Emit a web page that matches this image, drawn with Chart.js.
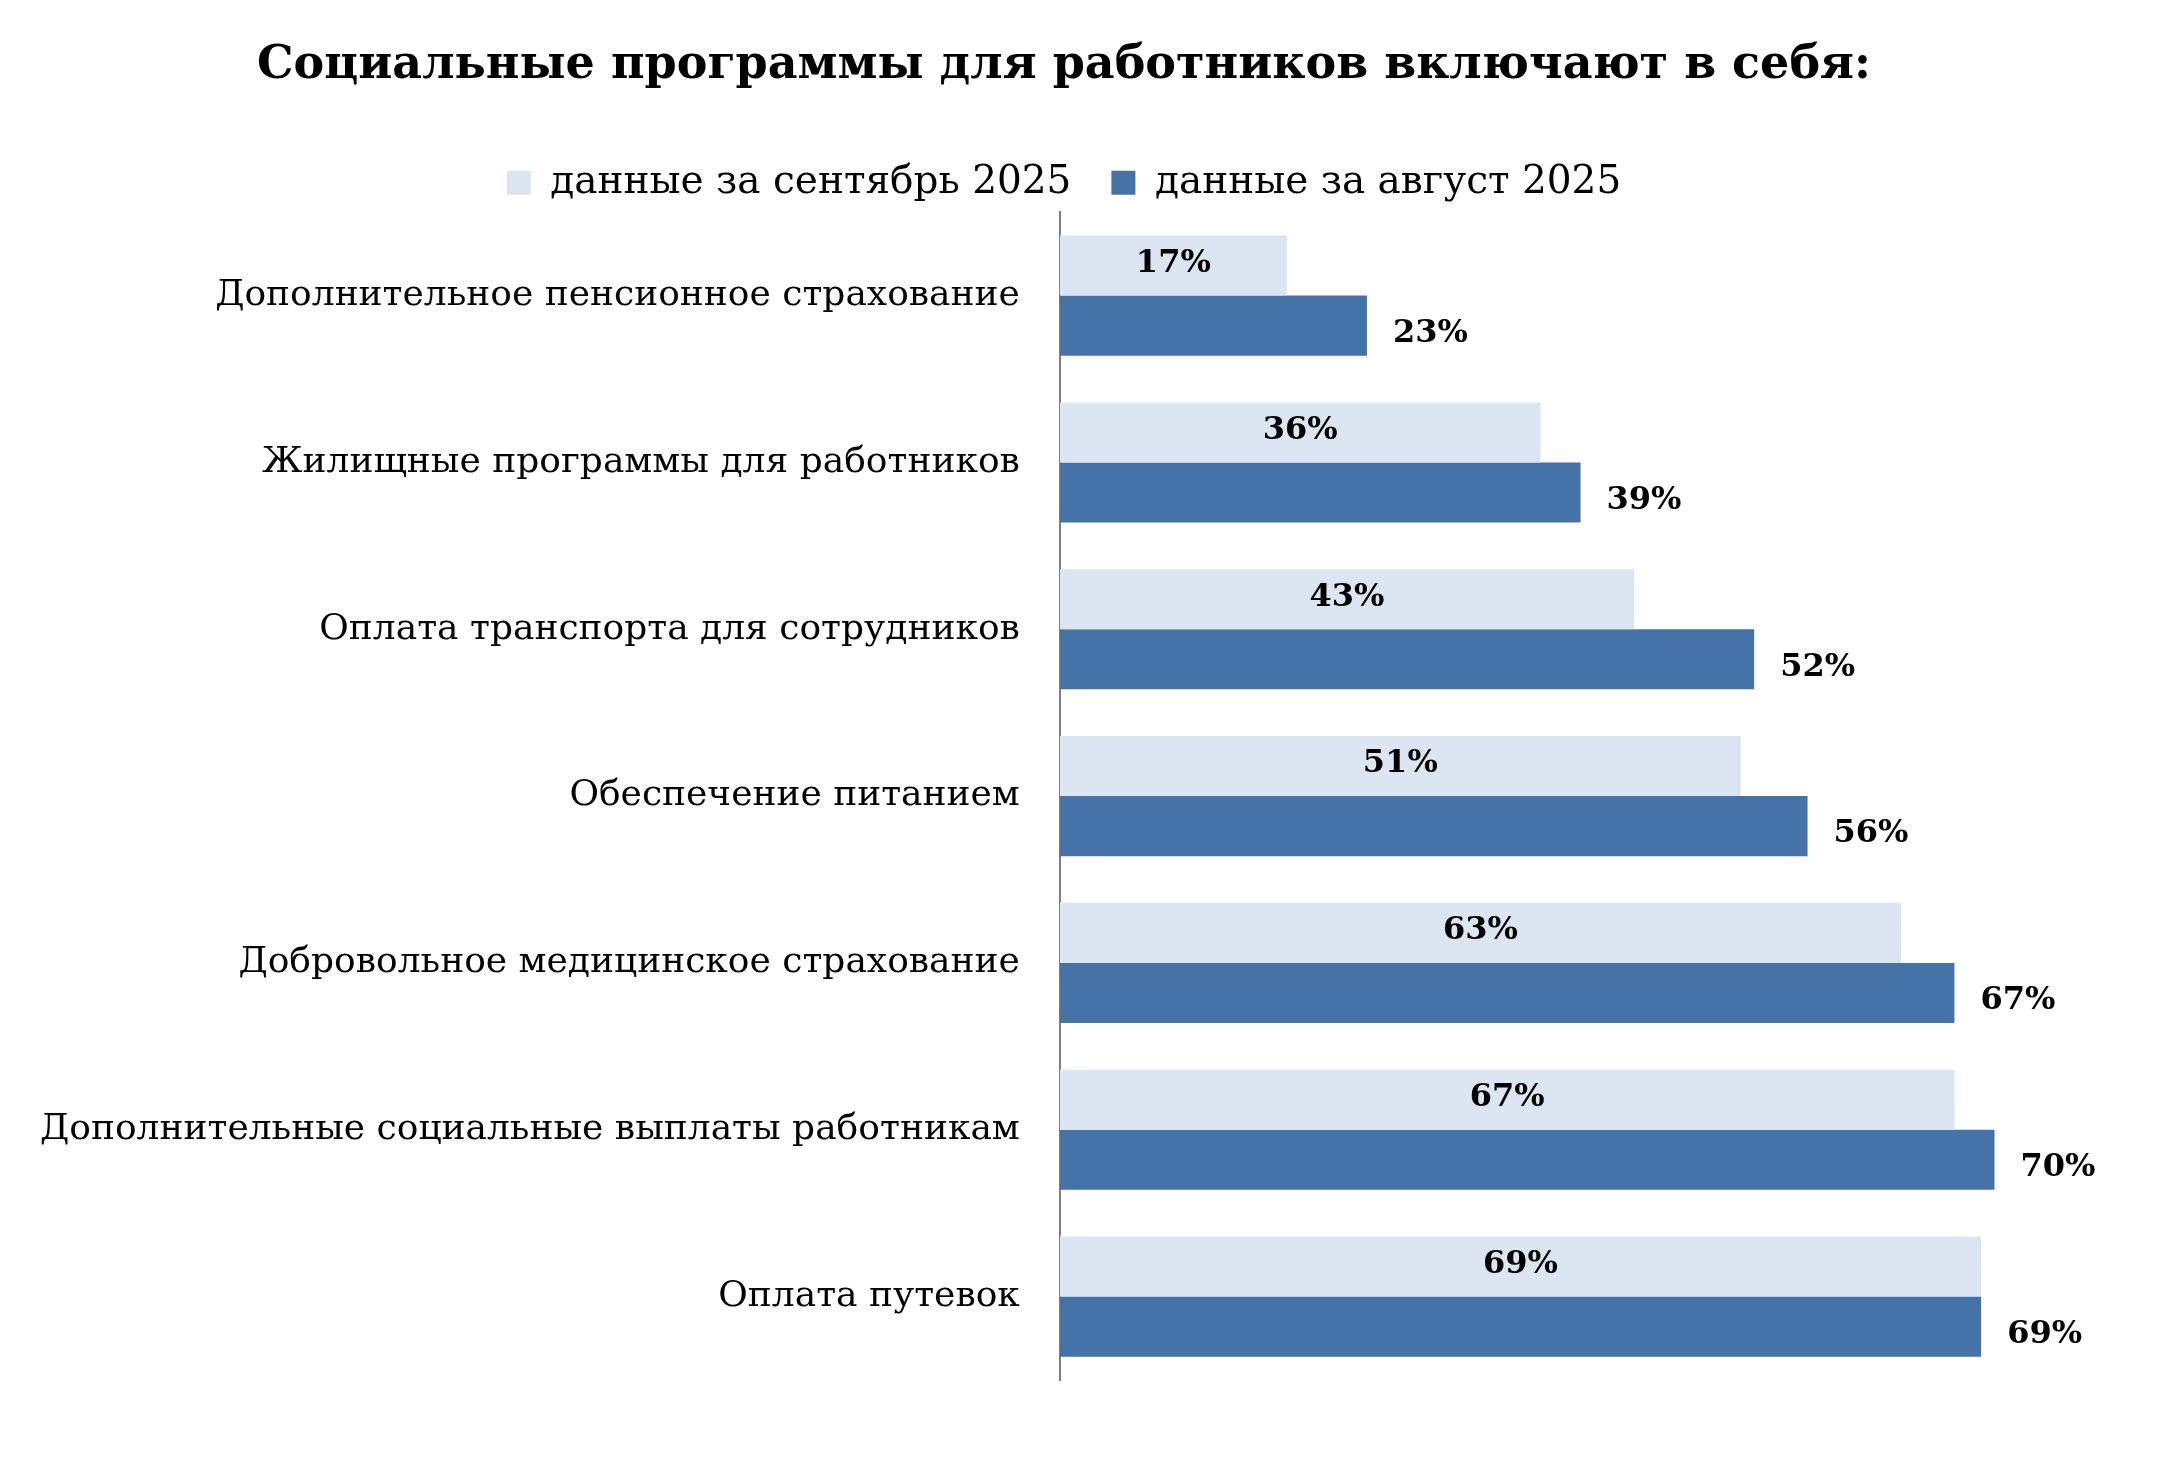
<!DOCTYPE html>
<html><head><meta charset="utf-8">
<script src="https://cdn.jsdelivr.net/npm/chart.js@4"></script>
<style>html,body{margin:0;background:#fff}#wrap{width:2183px;height:1478px}</style>
</head><body><div id="wrap"><canvas id="c"></canvas></div>
<script>
const categories = ['Дополнительное пенсионное страхование','Жилищные программы для работников','Оплата транспорта для сотрудников','Обеспечение питанием','Добровольное медицинское страхование','Дополнительные социальные выплаты работникам','Оплата путевок'];
const septValues = [17, 36, 43, 51, 63, 67, 69];
const augValues = [23, 39, 52, 56, 67, 70, 69];
const seriesNames = ['данные за сентябрь 2025', 'данные за август 2025'];

const serif = "'DejaVu Serif', Georgia, serif";
const labelPlugin = {
  id: 'vals',
  afterDatasetsDraw(chart) {
    const ctx = chart.ctx;
    ctx.save();
    ctx.font = 'bold 32px ' + serif;
    ctx.fillStyle = '#000';
    ctx.textBaseline = 'middle';
    chart.data.datasets.forEach((ds, i) => {
      chart.getDatasetMeta(i).data.forEach((bar, j) => {
        const t = ds.data[j] + '%';
        if (i === 0) {
          ctx.textAlign = 'center';
          ctx.fillText(t, (bar.x + bar.base) / 2, bar.y - 2);
        } else {
          ctx.textAlign = 'left';
          ctx.fillText(t, bar.x + 26, bar.y + 8);
        }
      });
    });
    ctx.restore();
  }
};

new Chart(document.getElementById('c'), {
  type: 'bar',
  data: {
    labels: categories,
    datasets: [
      { label: seriesNames[0], data: septValues, backgroundColor: '#dce6f2' },
      { label: seriesNames[1], data: augValues, backgroundColor: '#4572a7' }
    ]
  },
  options: {
    indexAxis: 'y',
    responsive: true,
    maintainAspectRatio: false,
    animation: false,
    categoryPercentage: 0.72,
    barPercentage: 1,
    layout: { padding: { top: 0, right: 55, bottom: 98, left: 0 } },
    scales: {
      x: { min: 0, max: 80, display: false, grid: { display: false } },
      y: {
        grid: { display: false, drawTicks: false },
        border: { display: true, color: '#808080', width: 2 },
        ticks: { color: '#000', padding: 40, font: { family: serif, size: 36 } }
      }
    },
    plugins: {
      legend: {
        position: 'top',
        labels: { color: '#000', boxWidth: 24, boxHeight: 24, padding: 40, font: { family: serif, size: 39 } }
      },
      title: {
        display: true,
        text: 'Социальные программы для работников включают в себя:',
        color: '#000',
        padding: { top: 38, bottom: 30 },
        font: { family: serif, size: 46, weight: 'bold' }
      },
      tooltip: { enabled: false }
    }
  },
  plugins: [labelPlugin]
});
</script></body></html>
